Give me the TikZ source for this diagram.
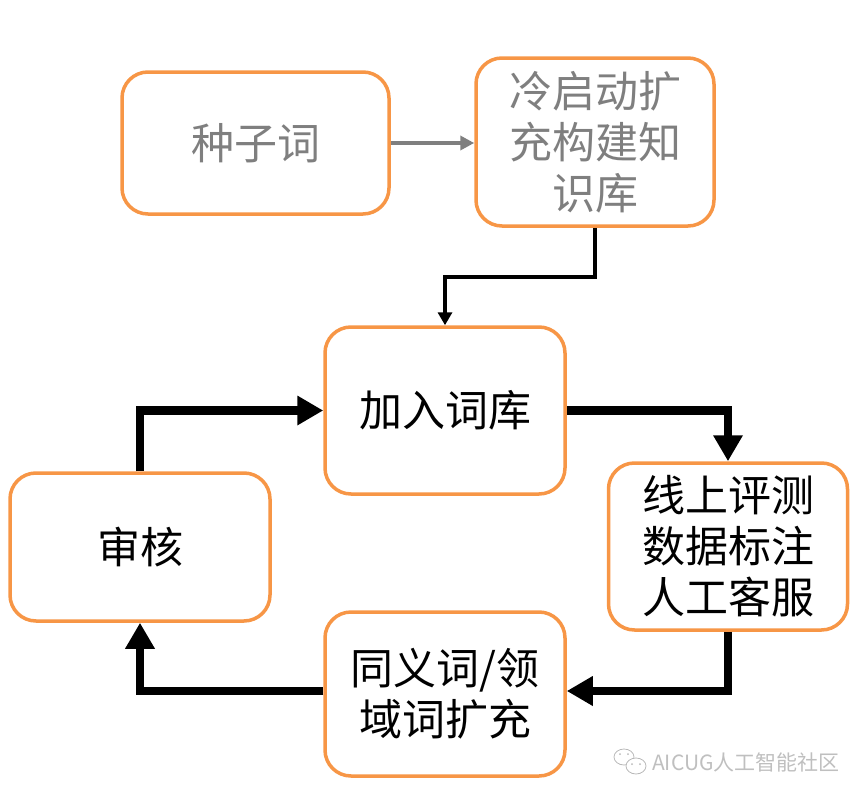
\documentclass[tikz,border=0pt]{standalone}
\usepackage{fontspec}
\setmainfont{Noto Sans CJK SC}
\usetikzlibrary{arrows.meta}
\definecolor{boxorange}{HTML}{F79646}
\definecolor{txtgrey}{HTML}{7F7F7F}
\tikzset{
  box/.style={draw=boxorange, line width=3.5pt, rounded corners=26pt, fill=white, align=center, inner sep=0pt, font=\fontsize{43}{51}\selectfont},
  greytext/.style={text=txtgrey},
  flowthick/.style={line width=8.5pt, -{Triangle[length=26pt,width=28pt]}},
  flowthin/.style={line width=4pt, -{Triangle[length=13pt,width=14pt]}},
  flowgrey/.style={draw=txtgrey, line width=4pt, -{Triangle[length=14pt,width=14pt]}},
}
\begin{document}
\begin{tikzpicture}[x=1pt,y=-1pt]
\useasboundingbox (0,0) rectangle (868,798);
\node[box, greytext, minimum width=267pt, minimum height=142pt] (seed) at (255.5,143) {种子词};
\node[box, greytext, minimum width=238pt, minimum height=168pt] (cold) at (595,142) {冷启动扩\\充构建知\\识库};
\node[box, minimum width=240pt, minimum height=167pt] (add) at (445,410.5) {加入词库};
\node[box, minimum width=239pt, minimum height=167pt] (online) at (728,546.5) {线上评测\\数据标注\\人工客服};
\node[box, minimum width=260pt, minimum height=148pt] (audit) at (140,547) {审核};
\node[box, minimum width=240pt, minimum height=164pt] (syn) at (445,694) {同义词/领\\域词扩充};
% connectors
\draw[flowgrey] (seed.east) -- (cold.west |- seed.east);
\coordinate (c1) at (595,277);
\draw[flowthin] (cold.south) -- (c1) -| (add.north);
\draw[flowthick] (add.east) -| (online.north);
\coordinate (c2) at (728,691);
\draw[flowthick] (online.south) -- (c2) -- (syn.east |- c2);
\coordinate (c3) at (140,691);
\draw[flowthick] (syn.west |- c3) -- (c3) -- (audit.south);
\coordinate (c4) at (140,410.5);
\draw[flowthick] (audit.north) -- (c4) -- (add.west);
% watermark
\node[inner sep=0pt, anchor=west, text=gray!50, font=\fontsize{21}{24}\selectfont] (wm) at (652,762) {AICUG人工智能社区};
\draw[gray!55, line width=0.8pt] (624,757) ellipse (10pt and 8pt);
\draw[gray!55, line width=0.8pt, fill=white] (636,766) ellipse (10pt and 8pt);
\fill[gray!55] (620,754) circle (1pt) (628,754) circle (1pt) (632,764) circle (1pt) (640,764) circle (1pt);
\end{tikzpicture}
\end{document}
